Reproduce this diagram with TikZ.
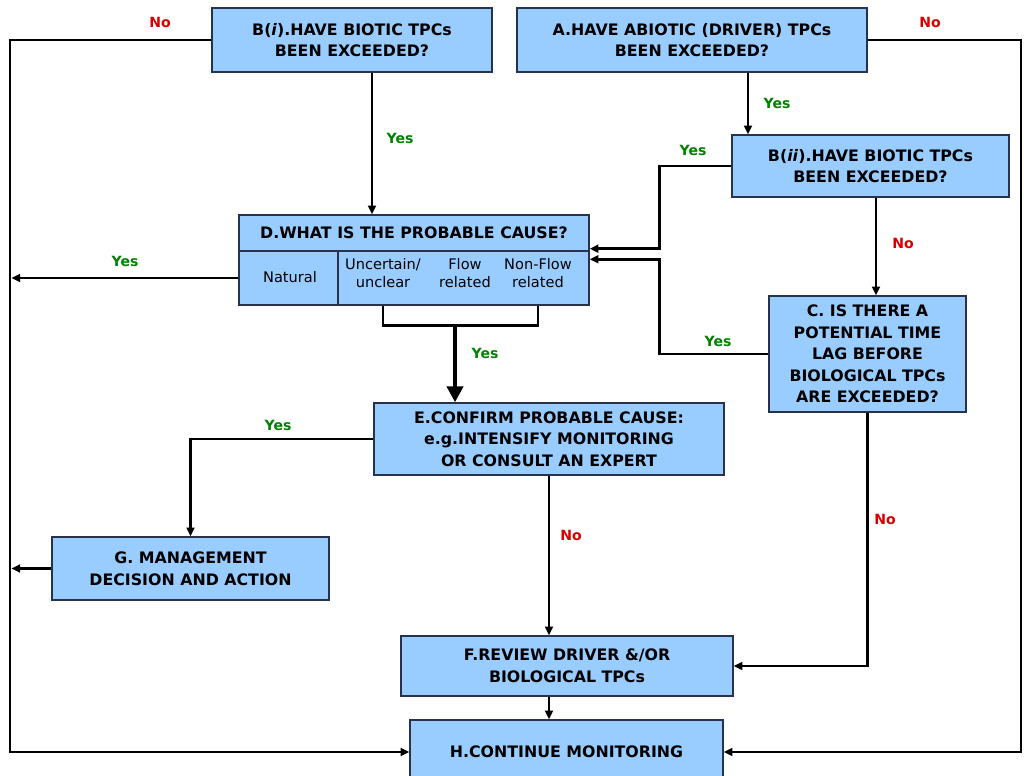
\documentclass[tikz,border=0pt]{standalone}
\usepackage{fontspec}
\setmainfont{DejaVu Sans}
\usetikzlibrary{arrows.meta}
\definecolor{boxblue}{RGB}{153,204,255}
\definecolor{boxline}{RGB}{40,50,75}
\definecolor{yesgreen}{RGB}{0,130,0}
\definecolor{nored}{RGB}{215,0,0}

\begin{document}
\begin{tikzpicture}[x=0.02cm, y=-0.02cm,
  box/.style={draw=boxline, fill=boxblue, line width=0.8pt, align=center, inner sep=0pt, font=\fontsize{9}{12.3}\selectfont\bfseries},
  small/.style={align=center, inner sep=0pt, font=\fontsize{8.3}{10.2}\selectfont},
  conn/.style={line width=1.6pt},
  link/.style={conn, -{Triangle[length=5pt,width=4.5pt]}},
  bigarrow/.style={line width=2.6pt, -{Triangle[length=9pt,width=9pt]}},
  yes/.style={text=yesgreen, font=\fontsize{8}{8}\selectfont\bfseries},
  no/.style={text=nored, font=\fontsize{8}{8}\selectfont\bfseries}]
\useasboundingbox (0,0) rectangle (1024,776);
\clip (0,0) rectangle (1024,776);

\node[box, minimum width=5.6cm, minimum height=1.28cm] (Bi) at (352,40) {B(\textit{i}).HAVE BIOTIC TPCs\\BEEN EXCEEDED?};
\node[box, minimum width=7cm, minimum height=1.28cm] (A) at (692,40) {A.HAVE ABIOTIC (DRIVER) TPCs\\BEEN EXCEEDED?};
\node[box, minimum width=5.54cm, minimum height=1.24cm] (Bii) at (870.5,166) {B(\textit{ii}).HAVE BIOTIC TPCs\\BEEN EXCEEDED?};
\node[box, minimum width=7cm, minimum height=0.72cm] (Dhead) at (414,233) {D.WHAT IS THE PROBABLE CAUSE?};
\node[box, minimum width=1.98cm, minimum height=1.08cm] (Dnat) at (288.5,278) {};
\node[box, minimum width=5.02cm, minimum height=1.08cm] (Drest) at (463.5,278) {};
\node[small] (nat) at (290,277) {Natural};
\node[small] (unc) at (383,273) {Uncertain/\\unclear};
\node[small] (flow) at (465,273) {Flow\\related};
\node[small] (nonflow) at (538,273) {Non-Flow\\related};
\node[box, minimum width=3.94cm, minimum height=2.32cm] (C) at (867.5,354) {C. IS THERE A\\POTENTIAL TIME\\LAG BEFORE\\BIOLOGICAL TPCs\\ARE EXCEEDED?};
\node[box, minimum width=7cm, minimum height=1.44cm] (E) at (549,439) {E.CONFIRM PROBABLE CAUSE:\\e.g.INTENSIFY MONITORING\\OR CONSULT AN EXPERT};
\node[box, minimum width=5.54cm, minimum height=1.26cm] (G) at (190.5,568.5) {G. MANAGEMENT\\DECISION AND ACTION};
\node[box, minimum width=6.64cm, minimum height=1.2cm] (F) at (567,666) {F.REVIEW DRIVER \&/OR\\BIOLOGICAL TPCs};
\node[box, minimum width=6.26cm, minimum height=1.28cm] (H) at (566.5,752) {H.CONTINUE MONITORING};

\draw[link] (Bi.west) -- (10,40) |- (H.west);
\draw[link] (A.east) -- (1021,40) |- (H.east);
\draw[link] ([xshift=1.12cm]A.south) -- ([xshift=1.12cm]A.south |- Bii.north);
\draw[link] ([xshift=0.4cm]Bi.south) -- ([xshift=0.4cm]Bi.south |- Dhead.north);
\draw[link] (Bii.west) -- ++(-1.44cm,0) |- ([yshift=0.06cm]Dhead.south east);
\draw[link] (C.west) -- ++(-2.18cm,0) |- ([yshift=-0.18cm]Drest.north east);
\draw[link] ([xshift=0.17cm]C.north |- Bii.south) -- ([xshift=0.17cm]C.north);
\draw[link] (Dnat.west) -- ++(-4.54cm,0);
\draw[conn] (unc |- Drest.south) -- ++(0,-0.4cm) coordinate (brk) -| (nonflow |- Drest.south);
\draw[bigarrow] ([xshift=-1.88cm]E.north |- brk) -- ([xshift=-1.88cm]E.north);
\draw[link] (E.west) -| (G.north);
\draw[link] (E.south) -- (E.south |- F.north);
\draw[link] (C.south) |- (F.east);
\draw[link] (G.west) -- ++(-0.8cm,0);
\draw[link] (E.south |- F.south) -- (E.south |- H.north);

\node[no] (noBi) at (160,22) {No};
\node[no] (noA) at (930,22) {No};
\node[yes] (yesBi) at (400,138) {Yes};
\node[yes] (yesA) at (777,103) {Yes};
\node[yes] (yesBii) at (693,150) {Yes};
\node[no] (noBii) at (903,243) {No};
\node[yes] (yesDnat) at (125,261) {Yes};
\node[yes] (yesD) at (485,353) {Yes};
\node[yes] (yesC) at (718,341) {Yes};
\node[yes] (yesE) at (278,425) {Yes};
\node[no] (noE) at (571,535) {No};
\node[no] (noC) at (885,519) {No};

\end{tikzpicture}
\end{document}
